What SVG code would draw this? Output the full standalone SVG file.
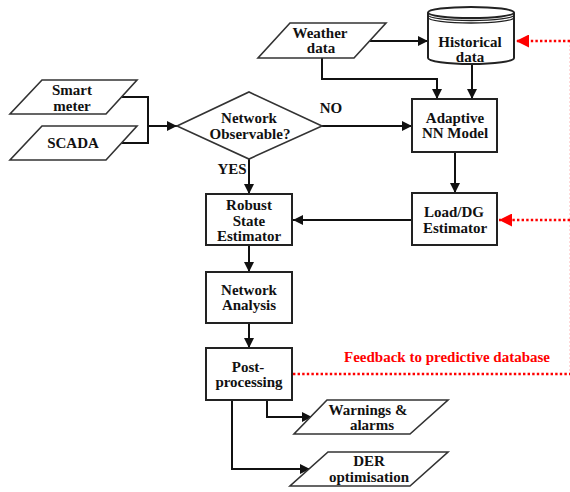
<svg xmlns="http://www.w3.org/2000/svg" width="570" height="492" viewBox="0 0 570 492">
<style>
.shape{fill:#fff;stroke:#222;stroke-width:2}
.para{fill:#fff;stroke:#333;stroke-width:1.6}
.t{font-family:"Liberation Serif","Times New Roman",serif;font-weight:bold;font-size:15px;fill:#111;text-anchor:middle}
.c{fill:none;stroke:#111;stroke-width:2}
.r{fill:none;stroke:#f00;stroke-width:2.6;stroke-dasharray:2.4 2.2}
</style>
<defs>
<marker id="a" viewBox="0 0 10 10" refX="10" refY="5" markerWidth="11" markerHeight="10" markerUnits="userSpaceOnUse" orient="auto"><path d="M0,0L10,5L0,10z" fill="#111"/></marker>
<marker id="ar" viewBox="0 0 10 10" refX="10" refY="5" markerWidth="13" markerHeight="13" markerUnits="userSpaceOnUse" orient="auto"><path d="M0,0L10,5L0,10z" fill="#f00"/></marker>
</defs>
<rect width="570" height="492" fill="#fff"/>
<g id="connectors">
<path class="c" d="M121.5,97H148V143H121.5"/>
<path class="c" d="M148,126H177" marker-end="url(#a)"/>
<path class="c" d="M249,159V194" marker-end="url(#a)"/>
<path class="c" d="M322,126H412" marker-end="url(#a)"/>
<path class="c" d="M370,41H428" marker-end="url(#a)"/>
<path class="c" d="M322,58V79H437V99" marker-end="url(#a)"/>
<path class="c" d="M472,64V99" marker-end="url(#a)"/>
<path class="c" d="M455,152V193" marker-end="url(#a)"/>
<path class="c" d="M412,220H293" marker-end="url(#a)"/>
<path class="c" d="M249,245V272" marker-end="url(#a)"/>
<path class="c" d="M249,323V348" marker-end="url(#a)"/>
<path class="c" d="M267,400V417H312" marker-end="url(#a)"/>
<path class="c" d="M232,400V469H310" marker-end="url(#a)"/>
<path class="r" d="M570,41H516" marker-end="url(#ar)"/>
<path class="r" d="M570,220H499" marker-end="url(#ar)"/>
<path class="r" d="M293,374H570"/>
<path d="M569.5,41V374" fill="none" stroke="#f00" stroke-width="1" stroke-dasharray="2 2" opacity="0.15"/>
</g>
<g id="smart-meter"><polygon class="para" points="42,80 137,80 106,114 10,114"/><text class="t" x="72" y="95">Smart</text><text class="t" x="72" y="111">meter</text></g>
<g id="scada"><polygon class="para" points="42,126 137,126 106,160 10,160"/><text class="t" x="73" y="148">SCADA</text></g>
<g id="observable"><polygon class="para" points="177,126 249,92 322,126 249,159"/><text class="t" x="249" y="123">Network</text><text class="t" x="250" y="139">Observable?</text></g>
<g id="yes-label"><text class="t" x="232" y="174">YES</text></g>
<g id="no-label"><text class="t" x="331" y="113">NO</text></g>
<g id="weather"><polygon class="para" points="290,23 386,23 354,58 258,58"/><text class="t" x="320" y="38">Weather</text><text class="t" x="321" y="53">data</text></g>
<g id="historical">
<path class="shape" d="M428,12.5V58A43,6 0 0 0 514,58V12.5"/>
<ellipse class="shape" cx="471" cy="12.5" rx="43" ry="5.5"/>
<path d="M428,15A43,5.5 0 0 0 514,15M428,17.5A43,5.5 0 0 0 514,17.5" fill="none" stroke="#222" stroke-width="1.3"/>
<text class="t" x="470" y="47">Historical</text><text class="t" x="470" y="62">data</text></g>
<g id="adaptive-nn"><rect class="shape" x="412" y="99" width="85" height="53"/><text class="t" x="455" y="123">Adaptive</text><text class="t" x="455" y="138">NN Model</text></g>
<g id="load-dg"><rect class="shape" x="412" y="193" width="85" height="52"/><text class="t" x="454" y="217">Load/DG</text><text class="t" x="455" y="233">Estimator</text></g>
<g id="robust"><rect class="shape" x="206" y="194" width="86" height="51"/><text class="t" x="249" y="210">Robust</text><text class="t" x="249" y="226">State</text><text class="t" x="249" y="241">Estimator</text></g>
<g id="network-analysis"><rect class="shape" x="206" y="272" width="86" height="51"/><text class="t" x="249" y="295">Network</text><text class="t" x="249" y="310">Analysis</text></g>
<g id="post-processing"><rect class="shape" x="206" y="348" width="86" height="52"/><text class="t" x="248" y="372">Post-</text><text class="t" x="249" y="387">processing</text></g>
<g id="feedback-label"><text class="t" x="447" y="362" style="fill:#f00">Feedback to predictive database</text></g>
<g id="warnings"><polygon class="para" points="327,400 448,400 410,434 294,434"/><text class="t" x="368" y="415">Warnings &amp;</text><text class="t" x="372" y="430">alarms</text></g>
<g id="der"><polygon class="para" points="328,452 448,452 410,486 290,486"/><text class="t" x="369" y="466">DER</text><text class="t" x="369" y="481.5">optimisation</text></g>
</svg>
